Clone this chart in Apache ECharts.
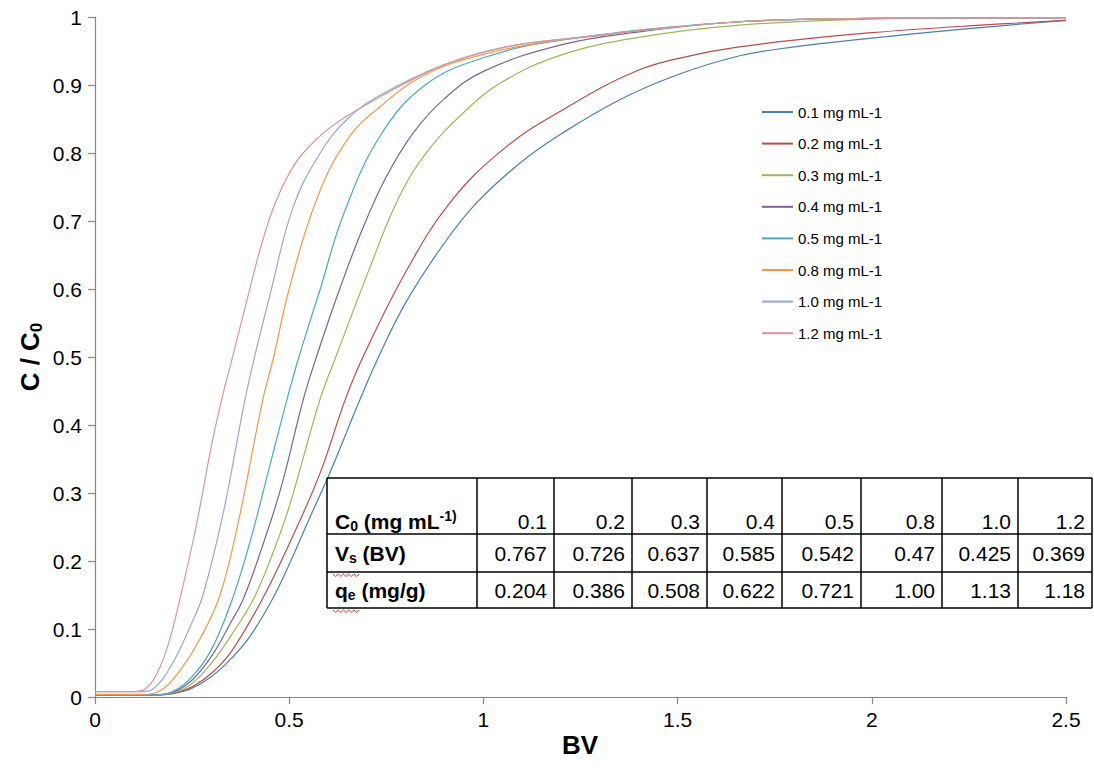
<!DOCTYPE html>
<html>
<head>
<meta charset="utf-8">
<script src="https://cdn.jsdelivr.net/npm/echarts@6/dist/echarts.min.js"></script>
<style>
html,body{margin:0;padding:0;background:#fff;}
#chart{width:1094px;height:769px;}
</style>
</head>
<body>
<div id="chart"></div>
<script>
// ---- data ----
var seriesNames = ['0.1 mg mL-1','0.2 mg mL-1','0.3 mg mL-1','0.4 mg mL-1','0.5 mg mL-1','0.8 mg mL-1','1.0 mg mL-1','1.2 mg mL-1'];

var c01 = [[0,0.003],[0.15,0.003],[0.2,0.005],[0.25,0.013],[0.3,0.03],[0.35,0.056],[0.4,0.09],[0.456,0.143],[0.5,0.195],[0.55,0.26],[0.605,0.33],[0.682,0.437],[0.73,0.5],[0.8,0.58],[0.9,0.668],[0.983,0.727],[1.1,0.788],[1.2,0.828],[1.35,0.878],[1.5,0.915],[1.66,0.943],[1.8,0.956],[2.0,0.969],[2.25,0.983],[2.5,0.995]];
var c02 = [[0,0.003],[0.15,0.003],[0.2,0.005],[0.25,0.015],[0.3,0.035],[0.35,0.066],[0.43,0.143],[0.5,0.225],[0.58,0.33],[0.644,0.437],[0.69,0.5],[0.8,0.625],[0.914,0.727],[1.05,0.805],[1.2,0.862],[1.4,0.922],[1.55,0.945],[1.66,0.956],[1.8,0.966],[2.0,0.977],[2.25,0.987],[2.5,0.995]];
var c03 = [[0,0.003],[0.15,0.003],[0.2,0.006],[0.25,0.02],[0.3,0.05],[0.35,0.09],[0.407,0.143],[0.45,0.2],[0.5,0.28],[0.579,0.437],[0.62,0.5],[0.7,0.62],[0.777,0.728],[0.85,0.798],[0.95,0.86],[1.05,0.905],[1.2,0.944],[1.4,0.97],[1.66,0.988],[2.0,0.997],[2.5,0.999]];
var c04 = [[0,0.003],[0.15,0.003],[0.2,0.007],[0.25,0.025],[0.3,0.06],[0.35,0.11],[0.381,0.143],[0.43,0.22],[0.48,0.31],[0.536,0.437],[0.57,0.5],[0.63,0.6],[0.69,0.69],[0.75,0.765],[0.82,0.83],[0.9,0.88],[1.0,0.92],[1.2,0.959],[1.4,0.978],[1.66,0.993],[2.0,0.998],[2.5,0.999]];
var c05 = [[0,0.003],[0.15,0.003],[0.2,0.008],[0.25,0.03],[0.3,0.07],[0.353,0.143],[0.4,0.23],[0.45,0.34],[0.494,0.437],[0.525,0.5],[0.58,0.6],[0.64,0.71],[0.734,0.825],[0.85,0.9],[1.0,0.94],[1.2,0.966],[1.66,0.993],[2.0,0.998],[2.5,0.999]];
var c08 = [[0,0.004],[0.12,0.004],[0.17,0.01],[0.22,0.04],[0.27,0.085],[0.322,0.15],[0.37,0.26],[0.432,0.437],[0.46,0.5],[0.5,0.6],[0.57,0.731],[0.65,0.82],[0.734,0.868],[0.85,0.915],[1.0,0.945],[1.2,0.966],[1.66,0.993],[2.0,0.998],[2.5,0.999]];
var c10 = [[0,0.008],[0.12,0.008],[0.15,0.012],[0.2,0.05],[0.25,0.11],[0.278,0.15],[0.33,0.27],[0.386,0.437],[0.415,0.51],[0.45,0.59],[0.51,0.72],[0.58,0.8],[0.65,0.85],[0.734,0.885],[0.9,0.93],[1.05,0.955],[1.2,0.967],[1.66,0.993],[2.0,0.998],[2.5,0.999]];
var c12 = [[0,0.008],[0.1,0.008],[0.13,0.012],[0.16,0.035],[0.19,0.08],[0.219,0.145],[0.26,0.25],[0.3,0.37],[0.326,0.437],[0.352,0.495],[0.394,0.59],[0.43,0.668],[0.463,0.725],[0.5,0.77],[0.536,0.8],[0.6,0.835],[0.68,0.865],[0.8,0.903],[0.9,0.93],[1.05,0.955],[1.2,0.967],[1.66,0.993],[2.0,0.998],[2.5,0.999]];

var xTicks = [0, 0.5, 1, 1.5, 2, 2.5];
var yTicks = [0, 0.1, 0.2, 0.3, 0.4, 0.5, 0.6, 0.7, 0.8, 0.9, 1];

// table contents
var tableConc = ['0.1','0.2','0.3','0.4','0.5','0.8','1.0','1.2'];
var tableVs   = ['0.767','0.726','0.637','0.585','0.542','0.47','0.425','0.369'];
var tableQe   = ['0.204','0.386','0.508','0.622','0.721','1.00','1.13','1.18'];

// ---- styling ----
var colors = ['#4A7EBB','#BE4B48','#98B954','#7D60A0','#46AAC5','#F79646','#95A8D6','#D99694'];
var allData = [c01,c02,c03,c04,c05,c08,c10,c12];

var FONT = '"Liberation Sans", Arial, sans-serif';

var series = allData.map(function(d, i){
  return {
    name: seriesNames[i],
    type: 'line',
    data: d,
    smooth: 0.4,
    symbol: 'none',
    lineStyle: {width: 1.2, color: colors[i]},
    itemStyle: {color: colors[i]},
    z: 2
  };
});

// table graphics
var colX = [327, 477, 554, 632, 707, 782, 861, 942, 1018, 1092];
var rowY = [478, 534, 572, 608];
var g = [];
g.push({type:'rect', shape:{x:colX[0], y:rowY[0], width:colX[colX.length-1]-colX[0], height:rowY[3]-rowY[0]},
        style:{fill:'#fff', stroke:null}, z:10});
rowY.forEach(function(y){
  g.push({type:'line', shape:{x1:colX[0], y1:y, x2:colX[colX.length-1], y2:y}, style:{stroke:'#000', lineWidth:1.5}, z:11});
});
colX.forEach(function(x){
  g.push({type:'line', shape:{x1:x, y1:rowY[0], x2:x, y2:rowY[3]}, style:{stroke:'#000', lineWidth:1.5}, z:11});
});
var rowCenters = [521, 553, 590];
var rows = [tableConc, tableVs, tableQe];
rows.forEach(function(r, ri){
  r.forEach(function(v, ci){
    g.push({type:'text', x: colX[ci+2]-7, y: rowCenters[ri], z:12,
      style:{text:v, font:'21px ' + FONT, fill:'#000', textAlign:'right', textVerticalAlign:'middle'}});
  });
});
var labRich = {
  b: {fontSize:21, fontWeight:'bold', fontFamily:FONT, lineHeight:24, verticalAlign:'middle'},
  sub: {fontSize:14, fontWeight:'bold', fontFamily:FONT, lineHeight:12, verticalAlign:'bottom'},
  sup: {fontSize:14, fontWeight:'bold', fontFamily:FONT, lineHeight:12, verticalAlign:'top'}
};
var labels = ['{b|C}{sub|0}{b| (mg mL}{sup|-1)}', '{b|V}{sub|s}{b| (BV)}', '{b|q}{sub|e}{b| (mg/g)}'];
labels.forEach(function(t, ri){
  g.push({type:'text', x: colX[0]+8, y: rowCenters[ri], z:12,
    style:{text:t, rich:labRich, textAlign:'left', textVerticalAlign:'middle', fill:'#000'}});
});
// spell-check wavy underlines
[[333,574],[333,610]].forEach(function(p){
  var pts = [];
  for (var k=0;k<=10;k++){ pts.push([p[0]+k*2.6, p[1] + (k%2===0?0:2.5)]); }
  g.push({type:'polyline', shape:{points:pts}, style:{stroke:'#E03030', lineWidth:1, fill:null}, z:13});
});

// axis titles
g.push({type:'text', x:580, y:745, z:5,
  style:{text:'BV', font:'bold 26px ' + FONT, fill:'#000', textAlign:'center', textVerticalAlign:'middle'}});
g.push({type:'text', x:30, y:357, rotation: Math.PI/2, z:5,
  style:{text:'{a|C / C}{s|0}', textAlign:'center', textVerticalAlign:'middle', fill:'#000',
    rich:{a:{fontSize:26, fontWeight:'bold', fontFamily:FONT, lineHeight:30, verticalAlign:'middle'},
          s:{fontSize:17, fontWeight:'bold', fontFamily:FONT, lineHeight:16, verticalAlign:'bottom'}}}});

var chart = echarts.init(document.getElementById('chart'), null, {renderer:'svg'});
chart.setOption({
  animation: false,
  backgroundColor: '#fff',
  color: colors,
  grid: {left:95, right:28, top:17, bottom:72, containLabel:false},
  legend: {
    orient:'vertical', left:757, top:99,
    itemWidth:31, itemHeight:2, itemGap:15.6, icon:'rect',
    textStyle:{fontSize:15, fontFamily:FONT, color:'#000', lineHeight:16, padding:[0,0,0,0]},
    data: seriesNames
  },
  xAxis: {
    type:'value', min:xTicks[0], max:xTicks[xTicks.length-1], interval:0.5,
    axisLine:{lineStyle:{color:'#868686', width:1.2}},
    axisTick:{show:true, length:7, lineStyle:{color:'#868686', width:1.2}},
    axisLabel:{fontSize:21, fontFamily:FONT, color:'#000', margin:12,
      formatter:function(v){ return String(+v.toFixed(2)); }},
    splitLine:{show:false}
  },
  yAxis: {
    type:'value', min:yTicks[0], max:yTicks[yTicks.length-1], interval:0.1,
    axisLine:{show:true, lineStyle:{color:'#868686', width:1.2}},
    axisTick:{show:true, length:7, lineStyle:{color:'#868686', width:1.2}},
    axisLabel:{fontSize:21, fontFamily:FONT, color:'#000', margin:13,
      formatter:function(v){ return String(+v.toFixed(2)); }},
    splitLine:{show:false}
  },
  graphic: g,
  series: series
});
</script>
</body>
</html>
